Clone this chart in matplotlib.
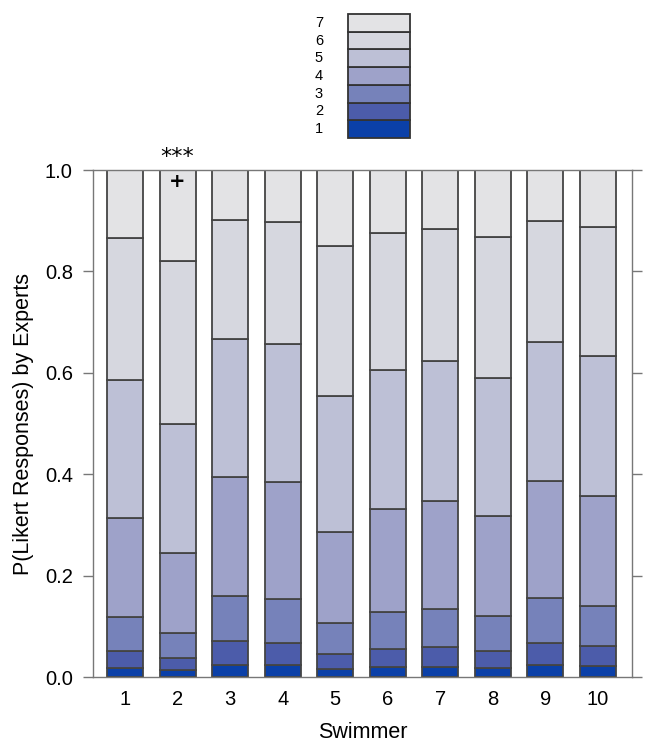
import matplotlib
matplotlib.use("Agg")
import matplotlib.pyplot as plt
from matplotlib.patches import Rectangle
import numpy as np

plt.rcParams['font.family'] = ['Liberation Sans', 'DejaVu Sans']

# swimmers on the x axis
swimmers = [1, 2, 3, 4, 5, 6, 7, 8, 9, 10]

# share of expert answers per Likert level (1 = lowest ... 7 = highest)
lik1 = [0.018, 0.014, 0.024, 0.023, 0.016, 0.020, 0.020, 0.018, 0.024, 0.022]
lik2 = [0.033, 0.023, 0.047, 0.044, 0.029, 0.035, 0.039, 0.034, 0.044, 0.039]
lik3 = [0.067, 0.049, 0.088, 0.086, 0.061, 0.073, 0.076, 0.068, 0.088, 0.080]
lik4 = [0.195, 0.159, 0.235, 0.231, 0.181, 0.203, 0.213, 0.198, 0.231, 0.216]
lik5 = [0.273, 0.255, 0.273, 0.273, 0.267, 0.275, 0.275, 0.272, 0.274, 0.276]
lik6 = [0.279, 0.320, 0.234, 0.241, 0.296, 0.269, 0.260, 0.277, 0.238, 0.254]
lik7 = [0.135, 0.180, 0.099, 0.102, 0.150, 0.125, 0.117, 0.133, 0.101, 0.113]

levels = ['1', '2', '3', '4', '5', '6', '7']
colors = ['#0b40a8', '#4c5caa', '#7682ba', '#9ea2c9', '#bdc0d6', '#d6d7df', '#e3e3e5']

fig = plt.figure(figsize=(6.53, 7.54), dpi=100)
ax = fig.add_axes([0.1424, 0.1021, 0.8254, 0.6724])

bottom = np.zeros(len(swimmers))
for lab, vals, col in zip(levels, [lik1, lik2, lik3, lik4, lik5, lik6, lik7], colors):
    ax.bar(swimmers, vals, width=0.685, bottom=bottom, color=col,
           edgecolor='#444444', linewidth=1.3, label=lab)
    bottom += np.array(vals)

# significance marks on swimmer 2
ax.text(2, 1.006, '***', ha='center', va='bottom', fontsize=16,
        family='DejaVu Sans', clip_on=False)
ax.text(2, 0.977, '+', ha='center', va='center', fontsize=14,
        fontweight='bold', family='DejaVu Sans')

ax.set_xlim(0.39, 10.65)
ax.set_ylim(0, 1.0)
ax.set_xticks(swimmers)
ax.set_yticks([0.0, 0.2, 0.4, 0.6, 0.8, 1.0])
ax.set_yticklabels(['0.0', '0.2', '0.4', '0.6', '0.8', '1.0'])
ax.tick_params(axis='x', length=0, pad=9, labelsize=14.5)
ax.tick_params(axis='y', direction='out', length=7.5, width=1, color='#777777',
               right=True, labelsize=14.5, pad=7)
for s in ax.spines.values():
    s.set_color('#777777')
    s.set_linewidth(1)

ax.set_xlabel('Swimmer', fontsize=15.5, labelpad=10)
ax.set_ylabel('P(Likert Responses) by Experts', fontsize=15.5, labelpad=8)

# key on top: stacked boxes, 7 at the top, labels on the left
lax = fig.add_axes([348 / 653, 1 - 138 / 754, 62 / 653, 124 / 754])
lax.set_xlim(0, 1)
lax.set_ylim(0, len(levels))
lax.axis('off')
for i, (lab, col) in enumerate(zip(levels, colors)):
    lax.add_patch(Rectangle((0, i), 1, 1, facecolor=col, edgecolor='#333333',
                            linewidth=1.3, clip_on=False))
    lax.text(-0.47, i + 0.5, lab, ha='center', va='center', fontsize=10.5)

fig.savefig('out.png', dpi=100)
